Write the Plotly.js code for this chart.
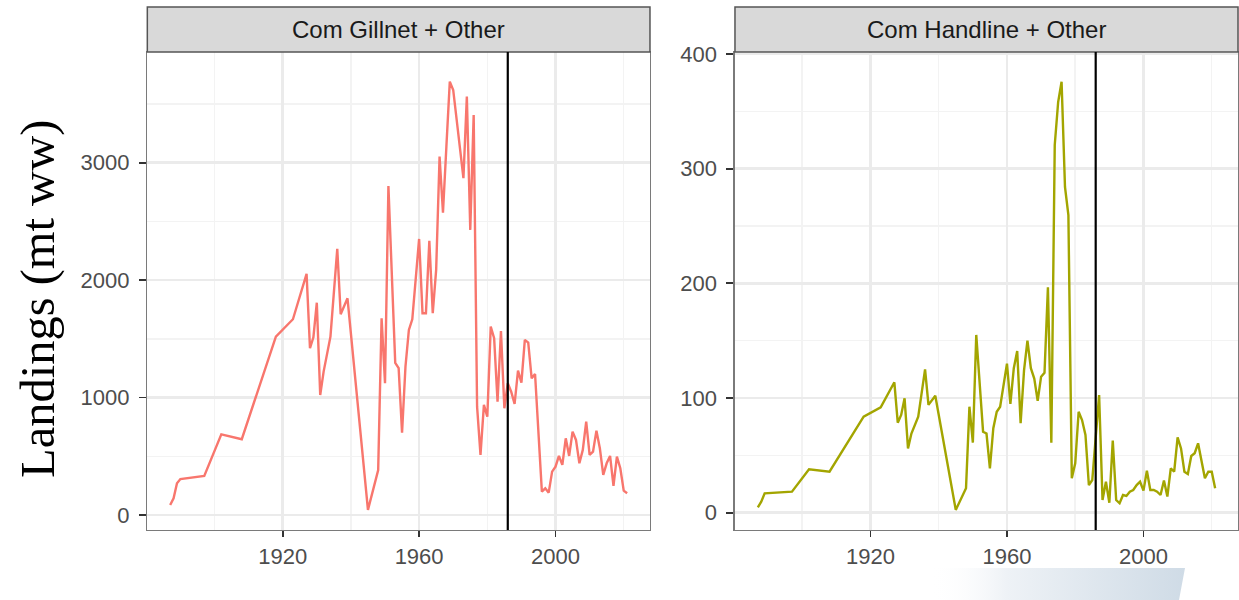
<!DOCTYPE html>
<html>
<head>
<meta charset="utf-8">
<script src="https://cdn.plot.ly/plotly-3.0.1.min.js"></script>
<style>html,body{margin:0;padding:0;background:#fff;}#chart{width:1239px;height:600px;}</style>
</head>
<body>
<div id="chart"></div>
<script>
// ---- data ----
const panelTitles = ["Com Gillnet + Other", "Com Handline + Other"];
const yAxisTitle = "Landings (mt ww)";
const cutYear = 1986;

const gillYears = [1887,1888,1889,1890,1897,1902,1908,1918,1923,1927,1928,1929,1930,1931,1932,1934,1936,1937,1939,1945,1948,1949,1950,1951,1953,1954,1955,1956,1957,1958,1960,1961,1962,1963,1964,1965,1966,1967,1968,1969,1970,1971,1972,1973,1974,1975,1976,1977,1978,1979,1980,1981,1982,1983,1984,1985,1986,1987,1988,1989,1990,1991,1992,1993,1994,1996,1997,1998,1999,2000,2001,2002,2003,2004,2005,2006,2007,2008,2009,2010,2011,2012,2013,2014,2015,2016,2017,2018,2019,2020,2021];
const gillLandings = [85,142,270,306,332,687,645,1519,1667,2053,1420,1513,1808,1022,1221,1519,2266,1709,1845,43,383,1675,1122,2802,1295,1250,701,1263,1576,1667,2351,1718,1718,2334,1718,2087,3052,2575,3137,3691,3620,3365,3137,2868,3563,2428,3407,922,511,937,837,1604,1505,965,1567,909,1122,1050,945,1229,1127,1491,1468,1164,1201,199,227,190,369,411,503,426,653,503,710,639,440,554,795,511,539,718,568,341,440,503,247,497,398,207,185];

const handYears = [1887,1888,1889,1897,1902,1908,1918,1923,1927,1928,1929,1930,1931,1932,1934,1936,1937,1939,1945,1948,1949,1950,1951,1953,1954,1955,1956,1957,1958,1960,1961,1962,1963,1964,1965,1966,1967,1968,1969,1970,1971,1972,1973,1974,1975,1976,1977,1978,1979,1980,1981,1982,1983,1984,1985,1986,1987,1988,1989,1990,1991,1992,1993,1994,1995,1996,1997,1998,1999,2000,2001,2002,2003,2004,2005,2006,2007,2008,2009,2010,2011,2012,2013,2014,2015,2016,2017,2018,2019,2020,2021];
const handLandings = [4.7,9.6,16.9,18.3,37.8,35.7,83.7,91.9,113.7,78.5,85.2,99.7,56,69,83.7,125,94,102,2.4,21.3,92.4,61,155,70.6,69,38.7,73.6,88,92.4,130,94.8,126,141,78,124,150,126,117,97.6,118.6,122,196.5,61,320.6,358,375.8,284,259.5,30,43,88,80.8,67.7,24,28.5,65,102.6,11,27,8.7,62.8,11,8.2,15.4,14.6,18.3,19.8,24,27,19.2,36.6,19.8,19.8,18.3,15.4,28,14,38.7,35.7,65.7,56,35.7,33.7,49.4,51.8,60.5,46,30,35.7,35.7,21.3];

const xTicks = [1920, 1960, 2000];
const xMinorGrid = [1880, 1900, 1940, 1980, 2020];
const gillYTicks = [0, 1000, 2000, 3000];
const gillYMinor = [500, 1500, 2500, 3500];
const handYTicks = [0, 100, 200, 300, 400];
const handYMinor = [50, 150, 250, 350];

// ---- styles ----
const gridMajor = "#EBEBEB";
const gridMinor = "#F3F3F3";
const borderCol = "#7A7A7A";
const tickFont = {family: "Liberation Sans, Arial, sans-serif", size: 22, color: "#4D4D4D"};

const traces = [
  {x: gillYears, y: gillLandings, type: "scatter", mode: "lines", xaxis: "x", yaxis: "y",
   line: {color: "#F8766D", width: 2.4}, hoverinfo: "x+y", showlegend: false},
  {x: handYears, y: handLandings, type: "scatter", mode: "lines", xaxis: "x2", yaxis: "y2",
   line: {color: "#A3A500", width: 2.4}, hoverinfo: "x+y", showlegend: false},
  // decorative gradient band (bottom right)
  {x: [930, 1185, 1179, 930, 930], y: [568, 568, 600, 600, 568], type: "scatter", mode: "lines",
   xaxis: "x3", yaxis: "y3", fill: "toself", line: {width: 0, color: "rgba(0,0,0,0)"},
   fillgradient: {type: "horizontal", colorscale: [[0, "rgba(255,255,255,0)"], [0.3, "rgb(238,242,246)"], [1, "rgb(207,219,230)"]]},
   hoverinfo: "skip", showlegend: false}
];

function xAxis(domain) {
  return {
    domain: domain, range: [1880.3, 2027.7], tickvals: xTicks, ticktext: xTicks.map(String),
    showgrid: true, gridcolor: gridMajor, gridwidth: 2.6, zeroline: false,
    minor: {tickvals: xMinorGrid, showgrid: true, gridcolor: gridMinor, gridwidth: 1.5, ticks: ""},
    showline: true, mirror: true, linecolor: borderCol, linewidth: 1.5,
    ticks: "outside", ticklen: 6, tickcolor: "#333333", tickwidth: 1.8,
    tickfont: tickFont, fixedrange: true
  };
}
function yAxis(range, ticks, minorTicks) {
  return {
    domain: [0.1167, 0.9133], range: range, tickvals: ticks, ticktext: ticks.map(String),
    showgrid: true, gridcolor: gridMajor, gridwidth: 2.6, zeroline: false,
    minor: {tickvals: minorTicks, showgrid: true, gridcolor: gridMinor, gridwidth: 1.5, ticks: ""},
    showline: true, mirror: true, linecolor: borderCol, linewidth: 1.5,
    ticks: "outside", ticklen: 7, tickcolor: "#333333", tickwidth: 1.8,
    tickfont: tickFont, ticklabelstandoff: 5, fixedrange: true
  };
}

const stripFont = {family: "Liberation Sans, Arial, sans-serif", size: 24, color: "#1A1A1A"};
const layout = {
  width: 1239, height: 600,
  margin: {l: 0, r: 0, t: 0, b: 0},
  paper_bgcolor: "#FFFFFF", plot_bgcolor: "rgba(0,0,0,0)",
  xaxis: xAxis([0.1189, 0.5246]),
  yaxis: yAxis([-128, 3943], gillYTicks, gillYMinor),
  xaxis2: Object.assign(xAxis([0.5932, 0.9992]), {anchor: "y2"}),
  yaxis2: Object.assign(yAxis([-15.1, 401.7], handYTicks, handYMinor), {anchor: "x2"}),
  xaxis3: {domain: [0, 1], range: [0, 1239], visible: false, fixedrange: true, anchor: "y3"},
  yaxis3: {domain: [0, 1], range: [600, 0], visible: false, fixedrange: true, anchor: "x3"},
  shapes: [
    {type: "rect", xref: "paper", yref: "paper", x0: 0.1189, x1: 0.5246, y0: 0.9133, y1: 0.9883,
     fillcolor: "#D9D9D9", line: {color: "#555555", width: 1.5}},
    {type: "rect", xref: "paper", yref: "paper", x0: 0.5932, x1: 0.9992, y0: 0.9133, y1: 0.9883,
     fillcolor: "#D9D9D9", line: {color: "#555555", width: 1.5}},
    {type: "line", xref: "x", yref: "y domain", x0: cutYear, x1: cutYear, y0: 0, y1: 1,
     line: {color: "#000000", width: 2.2}},
    {type: "line", xref: "x2", yref: "y2 domain", x0: cutYear, x1: cutYear, y0: 0, y1: 1,
     line: {color: "#000000", width: 2.2}}
  ],
  annotations: [
    {text: panelTitles[0], xref: "paper", yref: "paper", x: (0.1189 + 0.5246) / 2, y: 0.9508,
     showarrow: false, font: stripFont, xanchor: "center", yanchor: "middle"},
    {text: panelTitles[1], xref: "paper", yref: "paper", x: (0.5932 + 0.9992) / 2, y: 0.9508,
     showarrow: false, font: stripFont, xanchor: "center", yanchor: "middle"},
    {text: yAxisTitle, xref: "paper", yref: "paper", x: 38 / 1239, y: 1 - 299 / 600, textangle: -90,
     showarrow: false, xanchor: "center", yanchor: "middle",
     font: {family: "Liberation Serif, Times New Roman, serif", size: 48.5, color: "#000000"}}
  ]
};

Plotly.newPlot("chart", traces, layout, {displayModeBar: false, staticPlot: true});
</script>
</body>
</html>
